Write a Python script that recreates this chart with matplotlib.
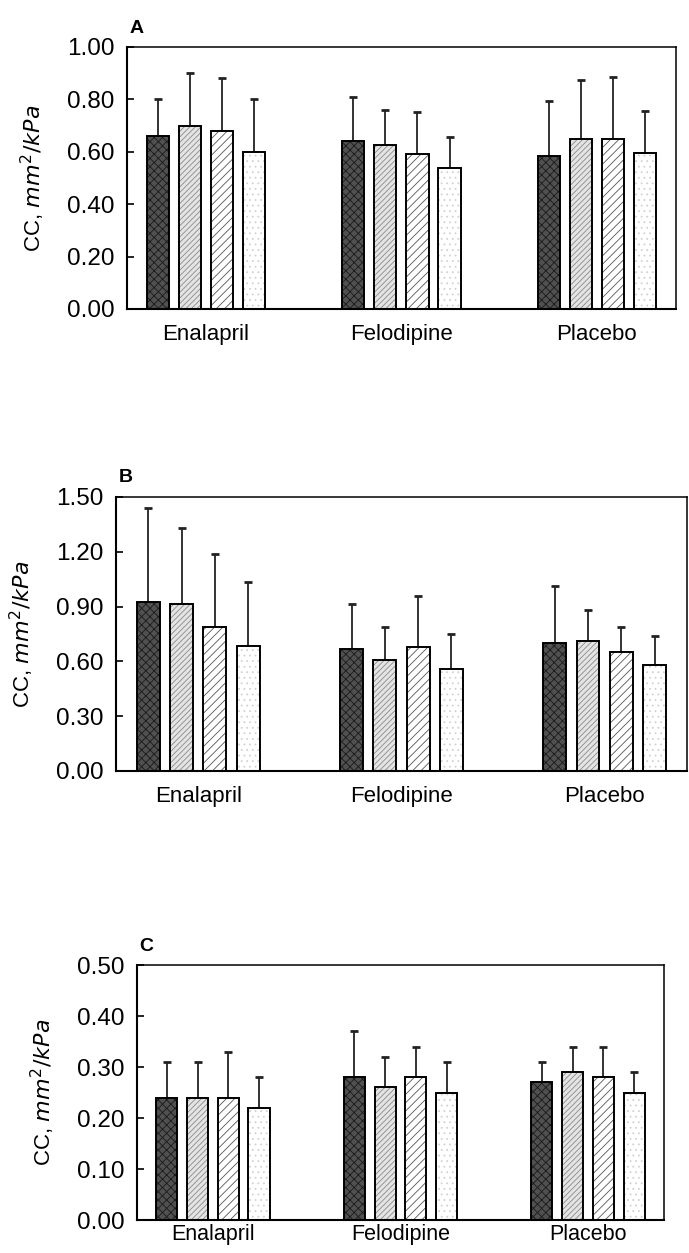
import numpy as np
import matplotlib
matplotlib.use("Agg")
import matplotlib.pyplot as plt

plt.rcParams['font.family'] = ['Liberation Sans', 'DejaVu Sans']
plt.rcParams['hatch.linewidth'] = 0.6

groups = ['Enalapril', 'Felodipine', 'Placebo']

# panel A
a_mean = [[0.66, 0.70, 0.68, 0.60],
          [0.64, 0.625, 0.59, 0.54],
          [0.585, 0.65, 0.65, 0.595]]
a_top = [[0.80, 0.90, 0.88, 0.80],
         [0.81, 0.76, 0.75, 0.655],
         [0.795, 0.875, 0.885, 0.755]]
# panel B
b_mean = [[0.925, 0.915, 0.79, 0.685],
          [0.67, 0.61, 0.68, 0.56],
          [0.70, 0.71, 0.65, 0.58]]
b_top = [[1.44, 1.33, 1.19, 1.035],
         [0.915, 0.79, 0.96, 0.75],
         [1.01, 0.88, 0.79, 0.74]]
# panel C
c_mean = [[0.24, 0.24, 0.24, 0.22],
          [0.28, 0.26, 0.28, 0.25],
          [0.27, 0.29, 0.28, 0.25]]
c_top = [[0.31, 0.31, 0.33, 0.28],
         [0.37, 0.32, 0.34, 0.31],
         [0.31, 0.34, 0.34, 0.29]]

a_ticks = [0.0, 0.2, 0.4, 0.6, 0.8, 1.0]
b_ticks = [0.0, 0.3, 0.6, 0.9, 1.2, 1.5]
c_ticks = [0.0, 0.1, 0.2, 0.3, 0.4, 0.5]

# fill, hatch colour, hatch
styles = [('#505050', '#1a1a1a', 'xxxx'),
          ('#e4e4e4', '#8a8a8a', '//////'),
          ('white', '#555555', '////'),
          ('white', '#d2d2d2', '...')]


def panel(ax, means, tops, ticks, letter, xpad=11, xsize=16):
    means = np.array(means)
    tops = np.array(tops)
    x = np.arange(len(groups))
    pitch = 0.164
    w = 0.113
    for i in range(4):
        xi = x + (i - 1.5) * pitch
        fc, hc, h = styles[i]
        ax.bar(xi, means[:, i], w, color=fc, edgecolor=hc, hatch=h, linewidth=0, zorder=2)
        ax.bar(xi, means[:, i], w, fill=False, edgecolor='black', linewidth=1.4, zorder=3)
        err = tops[:, i] - means[:, i]
        ax.errorbar(xi, means[:, i], yerr=[np.zeros(3), err], fmt='none', ecolor='#222222',
                    elinewidth=1.3, capsize=3, capthick=2, zorder=1)
    ax.set_xlim(-0.405, 2.405)
    ax.set_ylim(0, ticks[-1])
    ax.set_yticks(ticks)
    ax.set_yticklabels(['%.2f' % t for t in ticks])
    ax.set_xticks(x)
    ax.set_xticklabels(groups)
    ax.tick_params(axis='x', length=0, pad=xpad, labelsize=xsize)
    ax.tick_params(axis='y', direction='in', length=5, width=1.2, pad=9, labelsize=17.5)
    for s in ['left', 'bottom']:
        ax.spines[s].set_linewidth(1.5)
    for s in ['top', 'right']:
        ax.spines[s].set_linewidth(1.1)
    ax.set_ylabel(r'CC, $\it{mm^2/kPa}$', fontsize=16, labelpad=14)
    ax.text(0.005, 1.04, letter, transform=ax.transAxes, fontsize=14, fontweight='bold',
            ha='left', va='bottom')


fig = plt.figure(figsize=(6.89, 12.53), dpi=100)
ax1 = fig.add_axes([0.1843, 0.7534, 0.981 - 0.1843, 0.9625 - 0.7534])
ax2 = fig.add_axes([0.1684, 0.3847, 0.997 - 0.1684, 0.6034 - 0.3847])
ax3 = fig.add_axes([0.1988, 0.0263, 0.9637 - 0.1988, 0.2298 - 0.0263])

panel(ax1, a_mean, a_top, a_ticks, 'A')
panel(ax2, b_mean, b_top, b_ticks, 'B')
panel(ax3, c_mean, c_top, c_ticks, 'C', xpad=3, xsize=15.5)

fig.savefig('out.png', dpi=100)
